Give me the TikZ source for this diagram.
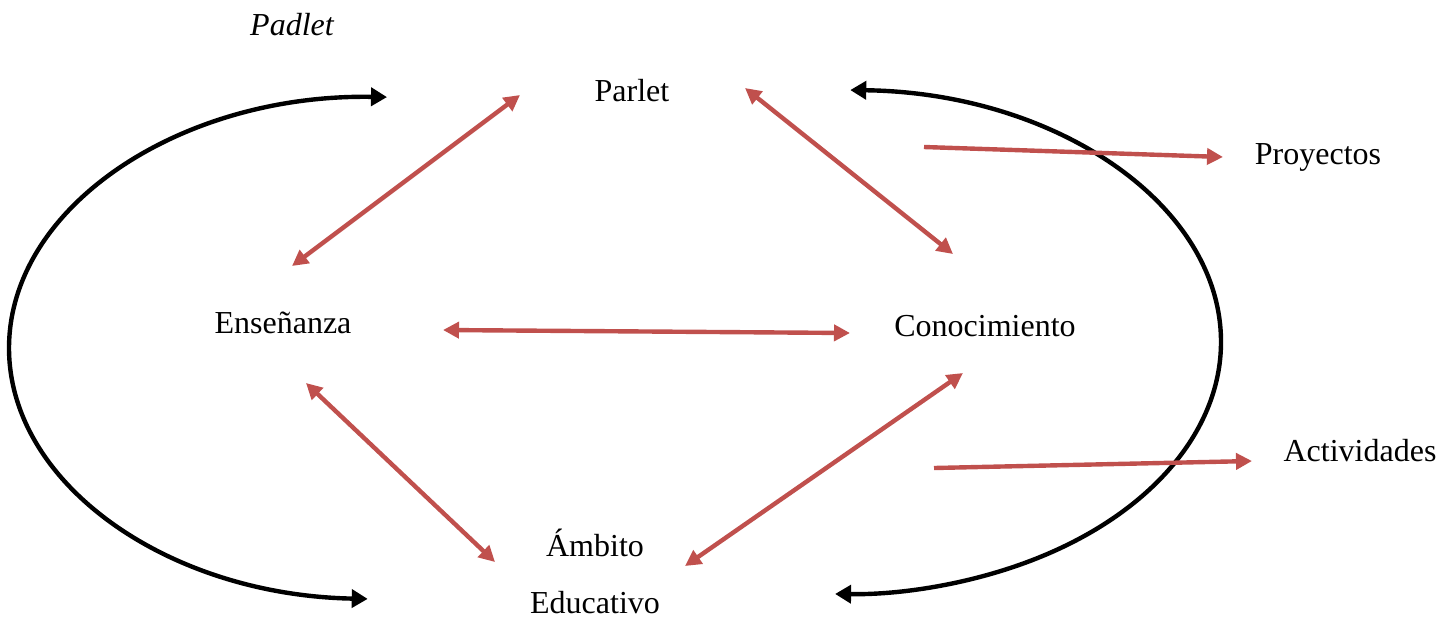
\documentclass[tikz,border=0pt]{standalone}
\usepackage{fontspec}
\setmainfont{Liberation Serif}
\usetikzlibrary{arrows.meta}

\definecolor{linkcolor}{RGB}{192,80,77}
\definecolor{loopcolor}{RGB}{0,0,0}

\tikzset{
  concept/.style={font=\fontsize{16}{19}\selectfont, anchor=base, inner sep=0pt},
  link/.style={linkcolor, line width=2.2pt, {Triangle[length=8pt,width=8pt]}-{Triangle[length=8pt,width=8pt]}},
  onelink/.style={linkcolor, line width=2.2pt, -{Triangle[length=8pt,width=8pt]}},
  loopline/.style={loopcolor, line width=2.2pt, {Triangle[length=8pt,width=9pt]}-{Triangle[length=8pt,width=9pt]}}
}

\begin{document}
\begin{tikzpicture}[x=0.5pt,y=-0.5pt]
      \useasboundingbox (0,0) rectangle (1455,638);

      % Title
      \node[concept] (padlet) at (292,35) {\itshape Padlet};

      % Concepts
      \node[concept] (parlet) at (632,101) {Parlet};
      \node[concept] (ensenanza) at (283,333) {Enseñanza};
      \node[concept] (conocimiento) at (985,336) {Conocimiento};
      \node[concept] (ambito) at (595,556) {Ámbito};
      \node[concept] (educativo) at (595,613) {Educativo};
      \node[concept] (proyectos) at (1318,164) {Proyectos};
      \node[concept] (actividades) at (1360,461) {Actividades};

      % Arrow ends
      \coordinate (ens-up) at (292,266);
      \coordinate (par-left) at (520,95);
      \coordinate (par-right) at (745,88);
      \coordinate (con-up) at (953,254);
      \coordinate (ens-right) at (443,330);
      \coordinate (con-left) at (850,333);
      \coordinate (ens-down) at (306,383);
      \coordinate (amb-left) at (495,562);
      \coordinate (amb-right) at (685,566);
      \coordinate (con-down) at (963,373);
      \coordinate (pro-start) at (924,147);
      \coordinate (pro-end) at (1223,157);
      \coordinate (act-start) at (934,468);
      \coordinate (act-end) at (1252,461);

      % Outer cycles
      \draw[loopline] (378,348) ++(-88.6:369 and 251) coordinate (left-top)
        arc[start angle=-88.6, end angle=-268.4, x radius=369, y radius=251] coordinate (left-bottom);
      \draw[loopline] (843,342) ++(-88.9:378 and 252) coordinate (right-top)
        arc[start angle=-88.9, end angle=91.2, x radius=378, y radius=252] coordinate (right-bottom);

      % Links between concepts
      \draw[link] (ens-up) -- (par-left);
      \draw[link] (par-right) -- (con-up);
      \draw[link] (ens-right) -- (con-left);
      \draw[link] (ens-down) -- (amb-left);
      \draw[link] (amb-right) -- (con-down);

      % Outputs
      \draw[onelink] (pro-start) -- (pro-end);
      \draw[onelink] (act-start) -- (act-end);
    \end{tikzpicture}
\end{document}
